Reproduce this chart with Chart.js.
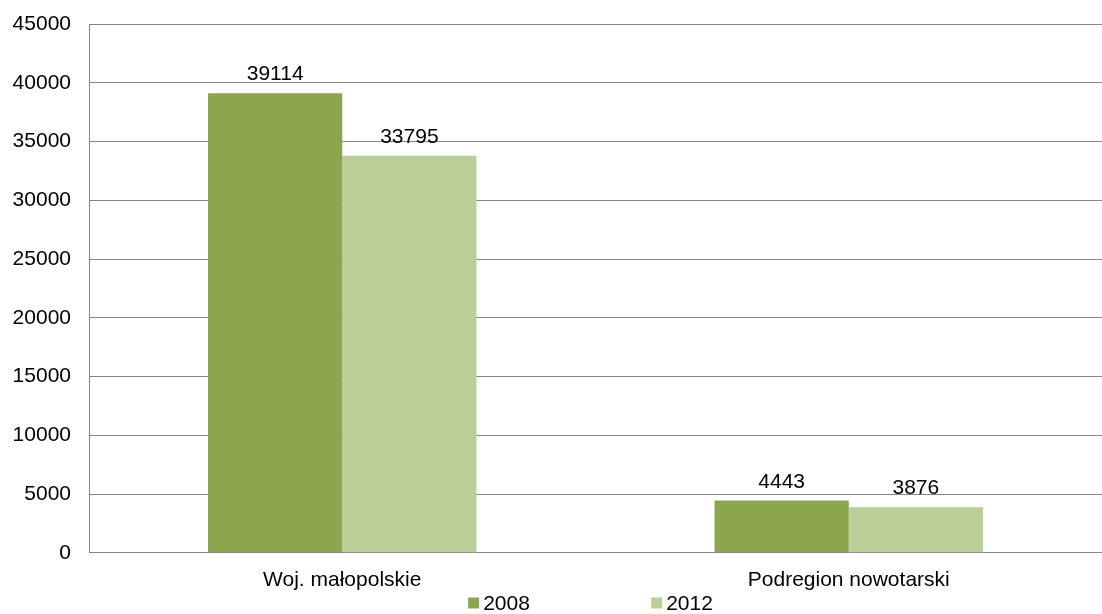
<!DOCTYPE html>
<html lang="pl">
<head>
  <meta charset="UTF-8" />
  <title>Woj. małopolskie / Podregion nowotarski</title>
  <style>
    * { margin: 0; padding: 0; box-sizing: border-box; }
    body { background: #fff; }
    .chart-box { width: 1102px; height: 614px; }
  </style>
</head>
<body>
  <div class="chart-box">
    <canvas id="barChart" width="1102" height="614"></canvas>
  </div>

  <script src="https://cdn.jsdelivr.net/npm/chart.js"></script>
  <script>
    // data
    const categories = ['Woj. małopolskie', 'Podregion nowotarski'];
    const values2008 = [39114, 4443];
    const values2012 = [33795, 3876];
    const seriesLabels = ['2008', '2012'];
    const seriesColors = ['#8BA64F', '#BACF97'];

    const FONT = 'Liberation Sans, Arial, sans-serif';
    const FONT_SIZE = 21;

    // value labels above the bars
    const valueLabels = {
      id: 'valueLabels',
      afterDatasetsDraw(chart) {
        const ctx = chart.ctx;
        ctx.save();
        ctx.font = FONT_SIZE + 'px ' + FONT;
        ctx.fillStyle = '#000';
        ctx.textAlign = 'center';
        ctx.textBaseline = 'alphabetic';
        chart.data.datasets.forEach((ds, i) => {
          chart.getDatasetMeta(i).data.forEach((bar, j) => {
            ctx.fillText(String(ds.data[j]), bar.x, bar.y - 13);
          });
        });
        ctx.restore();
      }
    };

    // simple legend at the bottom with wide spacing between items
    const bottomLegend = {
      id: 'bottomLegend',
      afterDraw(chart) {
        const ctx = chart.ctx;
        const area = chart.chartArea;
        const step = 183;
        const box = 11;
        const y = 603;
        ctx.save();
        ctx.font = FONT_SIZE + 'px ' + FONT;
        ctx.textBaseline = 'middle';
        ctx.textAlign = 'left';
        const n = chart.data.datasets.length;
        const lastW = box + 4 + ctx.measureText(chart.data.datasets[n - 1].label).width;
        const total = step * (n - 1) + lastW;
        let x = (area.left + area.right) / 2 - total / 2 - 5;
        chart.data.datasets.forEach(ds => {
          ctx.fillStyle = ds.backgroundColor;
          ctx.fillRect(x, y - box / 2, box, box);
          ctx.fillStyle = '#000';
          ctx.fillText(ds.label, x + box + 4, y + 1);
          x += step;
        });
        ctx.restore();
      }
    };

    const ctx = document.getElementById('barChart').getContext('2d');
    new Chart(ctx, {
      type: 'bar',
      data: {
        labels: categories,
        datasets: [
          {
            label: seriesLabels[0],
            data: values2008,
            backgroundColor: seriesColors[0],
            borderWidth: 0
          },
          {
            label: seriesLabels[1],
            data: values2012,
            backgroundColor: seriesColors[1],
            borderWidth: 0
          }
        ]
      },
      options: {
        responsive: false,
        animation: false,
        layout: { padding: { top: 24, right: 0, left: 12, bottom: 14 } },
        datasets: {
          bar: { categoryPercentage: 0.53, barPercentage: 1.0 }
        },
        plugins: {
          tooltip: { enabled: false },
          legend: { display: false }
        },
        scales: {
          x: {
            grid: { display: false },
            border: { color: '#868686', width: 1 },
            ticks: {
              color: '#000',
              padding: 7,
              font: { family: FONT, size: FONT_SIZE }
            }
          },
          y: {
            min: 0,
            max: 45000,
            grid: { color: '#868686', drawTicks: false },
            border: { color: '#868686', width: 1 },
            afterFit: scale => {
              scale.width = 77;
              scale.paddingTop = 0;
            },
            ticks: {
              stepSize: 5000,
              color: '#000',
              padding: 18,
              font: { family: FONT, size: FONT_SIZE },
              callback: v => String(v)
            }
          }
        }
      },
      plugins: [valueLabels, bottomLegend]
    });
  </script>
</body>
</html>
